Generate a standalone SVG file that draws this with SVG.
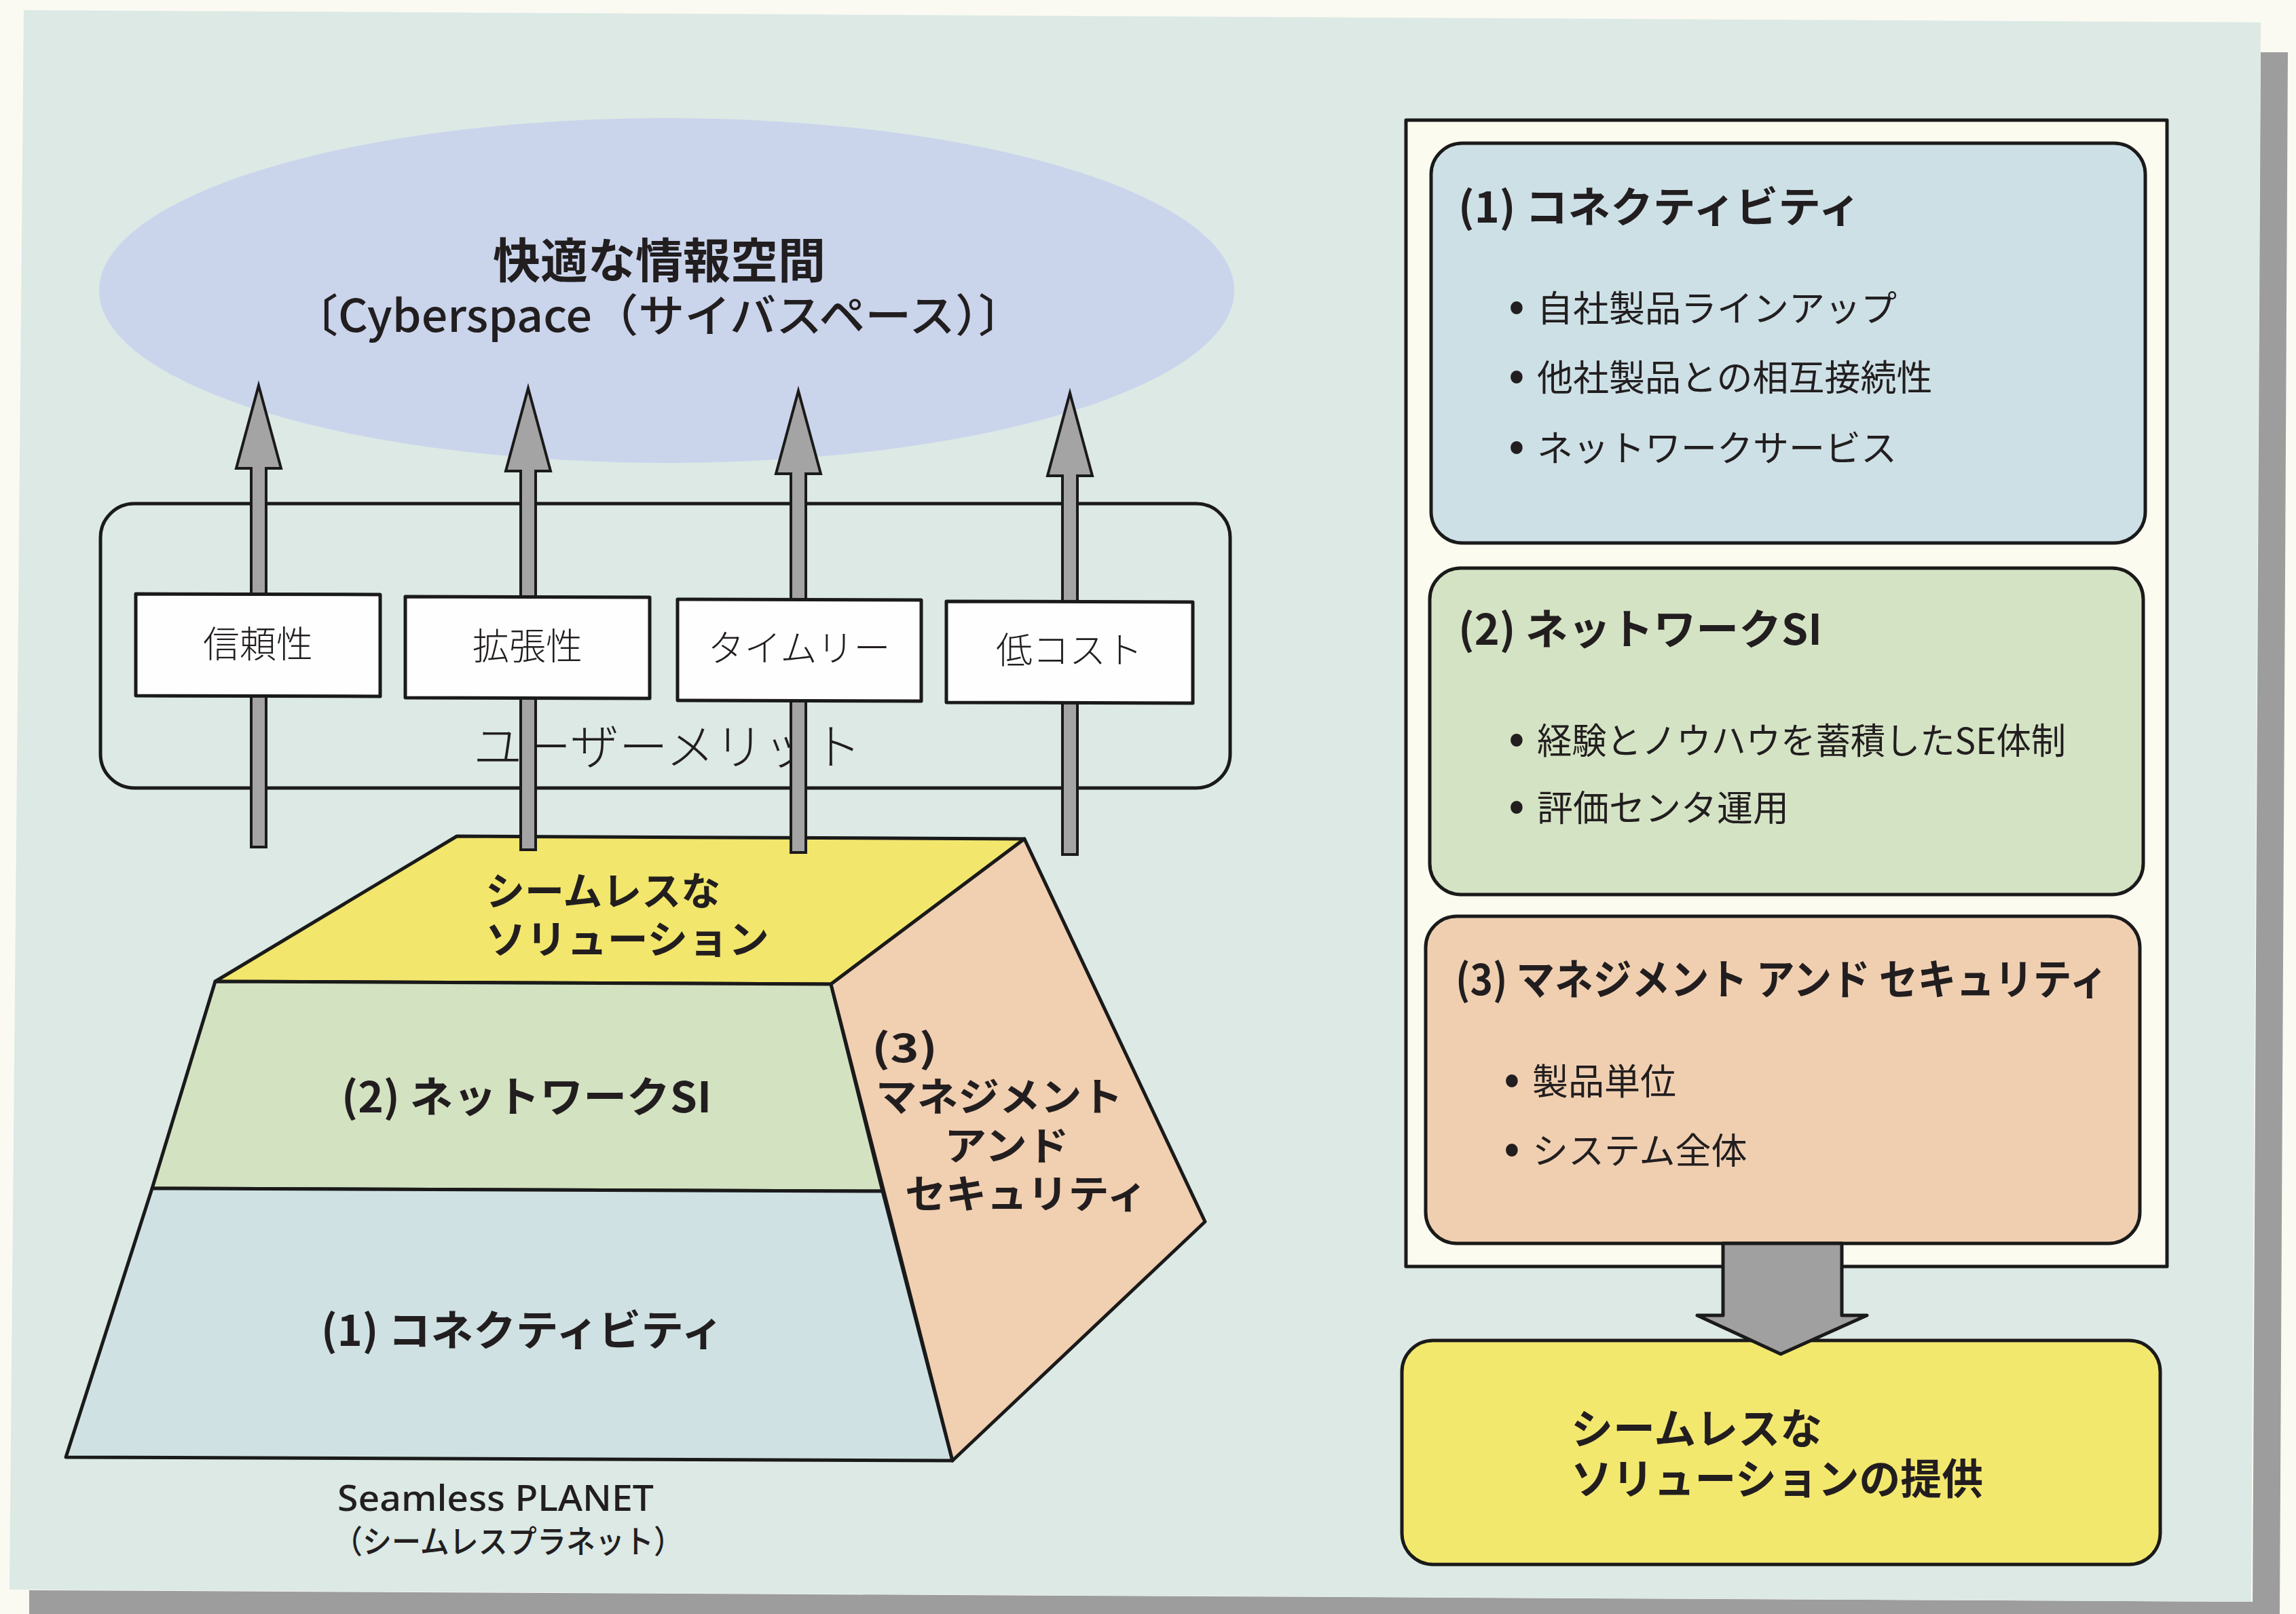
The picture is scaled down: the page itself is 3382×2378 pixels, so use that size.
<svg xmlns="http://www.w3.org/2000/svg" width="3382" height="2378" viewBox="0 0 3382 2378">
<style>
.jp{font-family:"Noto Sans CJK JP","Noto Sans",sans-serif;fill:#221e1f}
.b{font-weight:700}
.m{font-weight:500}
.r{font-weight:400}
.l{font-weight:300}
.bul{font-size:70px}
.ol{stroke:#1a1a1a;stroke-width:5;stroke-linejoin:round}
</style>
<defs>
<path id="uparrow" d="M0,0 L33,122 L11,122 L11,680 L-11,680 L-11,122 L-33,122 Z" fill="#a4a4a4" stroke="#1a1a1a" stroke-width="4" stroke-linejoin="miter"/>
</defs>
<rect x="0" y="0" width="3382" height="2378" fill="#fafaf3"/>
<g id="page">
<polygon points="3330,77 3370,77 3358,2378 3318,2378" fill="#9d9d9d"/>
<polygon points="43,2343 3318,2360 3318,2378 43,2378" fill="#9d9d9d"/>
<polygon points="35,15 3330,33 3316,2360 14,2342" fill="#dce9e5"/>
</g>
<g id="cyberspace">
<ellipse cx="982" cy="428" rx="836" ry="254" fill="#cad5ec"/>
<text class="jp b" x="971" y="410" font-size="70" text-anchor="middle">快適な情報空間</text>
<text class="jp m" x="430" y="489" font-size="66" textLength="1079" lengthAdjust="spacingAndGlyphs">〔Cyberspace（サイバスペース）〕</text>
</g>
<g id="user-merit">
<rect x="148" y="742" width="1664" height="419" rx="50" fill="none" class="ol"/>
<text class="jp l" x="983" y="1126" font-size="72" text-anchor="middle" fill="#3a3a3a">ユーザーメリット</text>
</g>
<g id="pyramid">
<g id="seamless-solution">
<polygon class="ol" points="673,1232 1509,1236 1224,1450 317,1446" fill="#f2e66c"/>
<text class="jp b" x="715" y="1334" font-size="58">シームレスな</text>
<text class="jp b" x="715" y="1405" font-size="58" textLength="418" lengthAdjust="spacingAndGlyphs">ソリューション</text>
</g>
<g id="network-si">
<polygon class="ol" points="317,1446 1224,1450 1300,1755 224,1751" fill="#d3e2c1"/>
<text class="jp b" x="503" y="1639" font-size="62" textLength="545" lengthAdjust="spacingAndGlyphs">(2) ネットワークSI</text>
</g>
<g id="connectivity">
<polygon class="ol" points="224,1751 1300,1755 1403,2152 97,2147" fill="#cfe1e3"/>
<text class="jp b" x="473" y="1983" font-size="62" textLength="593" lengthAdjust="spacingAndGlyphs">(1) コネクティビティ</text>
</g>
<g id="management-security">
<polygon class="ol" points="1509,1236 1775,1800 1403,2152 1224,1450" fill="#f1cfb1"/>
<text class="jp b" x="1284" y="1565" font-size="58" textLength="97" lengthAdjust="spacingAndGlyphs">(3)</text>
<text class="jp b" x="1290" y="1637" font-size="58" textLength="364" lengthAdjust="spacingAndGlyphs">マネジメント</text>
<text class="jp b" x="1391" y="1709" font-size="58" textLength="184" lengthAdjust="spacingAndGlyphs">アンド</text>
<text class="jp b" x="1333" y="1780" font-size="58" textLength="357" lengthAdjust="spacingAndGlyphs">セキュリティ</text>
</g>
<text x="497" y="2226" font-size="52" font-family="'Noto Sans','Liberation Sans',sans-serif" font-weight="500" fill="#221e1f" textLength="466" lengthAdjust="spacingAndGlyphs">Seamless PLANET</text>
<text class="jp m" x="491" y="2288" font-size="47" textLength="515" lengthAdjust="spacingAndGlyphs">（シームレスプラネット）</text>
</g>
<g id="right-panel">
<rect class="ol" x="2071" y="177" width="1121" height="1689" fill="#fbfbf0"/>
<g id="box-connectivity">
<rect class="ol" x="2108" y="211" width="1052" height="589" rx="46" fill="#cde0e6"/>
<text class="jp b" x="2148" y="328" font-size="62" textLength="593" lengthAdjust="spacingAndGlyphs">(1) コネクティビティ</text>
<text class="jp r" font-size="53" y="474"><tspan class="bul" x="2222">•</tspan><tspan x="2264">自社製品ラインアップ</tspan></text>
<text class="jp r" font-size="53" y="576"><tspan class="bul" x="2222">•</tspan><tspan x="2264">他社製品との相互接続性</tspan></text>
<text class="jp r" font-size="53" y="680"><tspan class="bul" x="2222">•</tspan><tspan x="2264">ネットワークサービス</tspan></text>
</g>
<g id="box-network-si">
<rect class="ol" x="2106" y="837" width="1051" height="481" rx="46" fill="#d4e3c4"/>
<text class="jp b" x="2148" y="950" font-size="62" textLength="536" lengthAdjust="spacingAndGlyphs">(2) ネットワークSI</text>
<text class="jp r" font-size="53" y="1111"><tspan class="bul" x="2222">•</tspan><tspan x="2264" textLength="779" lengthAdjust="spacingAndGlyphs">経験とノウハウを蓄積したSE体制</tspan></text>
<text class="jp r" font-size="53" y="1210"><tspan class="bul" x="2222">•</tspan><tspan x="2264">評価センタ運用</tspan></text>
</g>
<g id="box-management">
<rect class="ol" x="2100" y="1350" width="1052" height="482" rx="46" fill="#f0cfb1"/>
<text class="jp b" x="2144" y="1466" font-size="62" textLength="961" lengthAdjust="spacingAndGlyphs">(3) マネジメント アンド セキュリティ</text>
<text class="jp r" font-size="53" y="1613"><tspan class="bul" x="2215">•</tspan><tspan x="2257">製品単位</tspan></text>
<text class="jp r" font-size="53" y="1715"><tspan class="bul" x="2215">•</tspan><tspan x="2257">システム全体</tspan></text>
</g>
</g>
<g id="box-seamless-provision">
<rect class="ol" x="2065" y="1975" width="1117" height="330" rx="46" fill="#f3e86e"/>
<text class="jp b" x="2314" y="2128" font-size="62">シームレスな</text>
<text class="jp b" x="2314" y="2202" font-size="62" textLength="607" lengthAdjust="spacingAndGlyphs">ソリューションの提供</text>
</g>
<g id="connectors">
<use href="#uparrow" transform="translate(381,568)"/>
<use href="#uparrow" transform="translate(778,572)"/>
<use href="#uparrow" transform="translate(1176,576)"/>
<use href="#uparrow" transform="translate(1576,579)"/>
<polygon class="ol" points="2538,1832 2713,1832 2713,1938 2750,1938 2623,1995 2500,1938 2538,1938" fill="#a0a0a0"/>
</g>
<g id="merit-boxes">
<g id="reliability"><polygon class="ol" points="200,875 560,876 560,1026 200,1025" fill="#fefefe"/><text class="jp l" x="380" y="969" font-size="54" text-anchor="middle">信頼性</text></g>
<g id="scalability"><polygon class="ol" points="597,879 957,880 957,1029 597,1028" fill="#fefefe"/><text class="jp l" x="777" y="972" font-size="54" text-anchor="middle">拡張性</text></g>
<g id="timely"><polygon class="ol" points="998,883 1357,884 1357,1033 998,1032" fill="#fefefe"/><text class="jp l" x="1177" y="975" font-size="54" text-anchor="middle">タイムリー</text></g>
<g id="low-cost"><polygon class="ol" points="1394,886 1757,887 1757,1036 1394,1035" fill="#fefefe"/><text class="jp l" x="1575" y="978" font-size="54" text-anchor="middle">低コスト</text></g>
</g>
</svg>
